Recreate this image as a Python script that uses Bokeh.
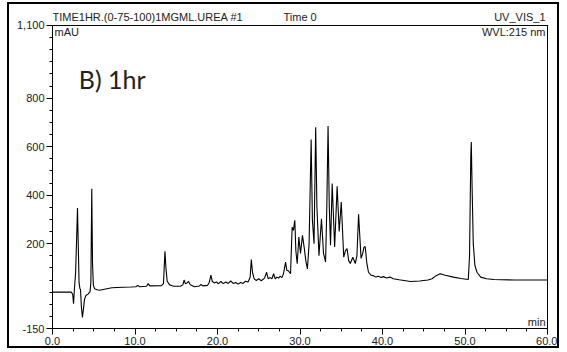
from bokeh.plotting import figure
from bokeh.models import Range1d, FixedTicker, NumeralTickFormatter, Label, Span
from bokeh.embed import file_html
from bokeh.resources import INLINE

# Retention time (min) and absorbance (mAU)
time_min = [0.0, 2.3, 2.45, 2.55, 2.65, 2.8, 2.95, 3.03, 3.12, 3.22, 3.32, 3.4, 3.5, 3.63, 3.75, 3.88,
            4.05, 4.3, 4.55, 4.65, 4.76, 4.85, 4.95, 5.1, 5.4, 5.7, 6.3, 7.2, 8.5, 9.5, 10.1, 10.35,
            10.55, 11.4, 11.6, 11.8, 13.2, 13.45, 13.63, 13.75, 13.9, 14.2, 14.7, 15.5, 15.8, 15.95,
            16.1, 16.3, 16.5, 16.7, 17.2, 17.8, 18.0, 18.2, 18.8, 19.0, 19.2, 19.35, 19.6, 19.9, 20.1,
            20.4, 20.7, 21.0, 21.3, 21.6, 21.9, 22.2, 22.5, 22.8, 23.1, 23.4, 23.7, 23.95, 24.1, 24.25,
            24.45, 24.7, 25.0, 25.3, 25.7, 25.95, 26.15, 26.4, 26.6, 26.8, 27.0, 27.2, 27.4, 27.6, 27.8,
            28.0, 28.25, 28.4, 28.6, 28.85, 29.05, 29.2, 29.37, 29.5, 29.66, 29.86, 30.06, 30.3, 30.5,
            30.7, 30.9, 31.1, 31.35, 31.5, 31.7, 31.9, 32.05, 32.3, 32.6, 32.85, 33.1, 33.25, 33.4,
            33.55, 33.7, 33.9, 34.2, 34.5, 34.75, 35.0, 35.3, 35.5, 35.7, 35.9, 36.1, 36.4, 36.7, 36.9,
            37.1, 37.4, 37.6, 37.75, 37.9, 38.1, 38.3, 38.6, 38.9, 39.2, 39.5, 39.8, 40.1, 40.5, 40.9,
            41.3, 42.0, 43.4, 44.5, 45.5, 46.0, 46.5, 47.0, 47.6, 48.6, 49.5, 50.4, 50.55, 50.7, 50.76,
            50.85, 51.0, 51.2, 51.45, 51.9, 52.6, 53.5, 56.0, 60.0]
signal_mau = [0, 0, -10, -48, 10, 80, 250, 347, 200, 40, 15, 10, -60, -104, -70, -30,
              -14, -8, 2, 40, 427, 120, 30, 14, 10, 8, 12, 18, 20, 21, 22, 28,
              22, 24, 35, 26, 27, 35, 169, 100, 45, 30, 24, 24, 30, 50,
              35, 38, 44, 30, 22, 25, 32, 26, 28, 40, 70, 45, 38, 42, 34,
              44, 35, 42, 36, 46, 36, 40, 33, 40, 36, 45, 42, 60, 134, 80,
              55, 48, 55, 47, 58, 82, 55, 60, 55, 76, 55, 62, 58, 66, 60,
              76, 124, 90, 88, 76, 268, 255, 296, 170, 117, 227, 160, 234, 186,
              130, 96, 200, 630, 300, 200, 680, 350, 150, 303, 160, 124, 350, 685,
              350, 193, 448, 186, 437, 250, 372, 144, 170, 180, 130, 118, 144, 118, 150,
              321, 139, 160, 185, 188, 120, 82, 70, 68, 62, 66, 60, 64, 58, 62,
              55, 51, 44, 46, 50, 55, 68, 76, 70, 62, 56, 52, 150, 560, 619,
              450, 200, 110, 82, 62, 55, 52, 50, 50]

x_major_ticks = [0, 10, 20, 30, 40, 50, 60]
x_minor_ticks = [i * 2.5 for i in range(25)]
y_major_ticks = [-150, 200, 400, 600, 800, 1100]
y_minor_ticks = [-150 + 50 * i for i in range(26)]
x_limits = (0, 60)
y_limits = (-150, 1100)

header_left = "TIME1HR.(0-75-100)1MGML.UREA #1"
header_mid = "Time 0"
header_right = "UV_VIS_1"
unit_left = "mAU"
unit_right = "WVL:215 nm"
panel_label = "B) 1hr"
x_unit = "min"

FONT = "Liberation Sans"
TXT = "#222222"
FS = "11px"

# the frame reaches above the 1,100 line so the header texts sit inside it
p = figure(width=552, height=346, output_backend="svg", toolbar_location=None,
           x_range=Range1d(x_limits[0], x_limits[1] + 0.12),
           y_range=Range1d(y_limits[0], y_limits[1] + 66),
           min_border_left=43, min_border_right=13, min_border_top=5, min_border_bottom=22)
p.title.visible = False
p.styles = {"border": "2px solid black", "margin-left": "7px", "margin-top": "2px"}
p.background_fill_color = "white"
p.border_fill_color = "white"
p.outline_line_color = None
p.xgrid.visible = False
p.ygrid.visible = False

p.xaxis.ticker = FixedTicker(ticks=x_major_ticks, minor_ticks=x_minor_ticks)
p.yaxis.ticker = FixedTicker(ticks=y_major_ticks, minor_ticks=y_minor_ticks)
p.xaxis.formatter = NumeralTickFormatter(format="0.0")
p.yaxis.formatter = NumeralTickFormatter(format="0,0")
p.xaxis.bounds = x_limits
p.yaxis.bounds = y_limits
for ax in (p.xaxis[0], p.yaxis[0]):
    ax.axis_line_color = "black"
    ax.major_tick_line_color = "black"
    ax.minor_tick_line_color = "black"
    ax.major_tick_in = 0
    ax.major_tick_out = 6
    ax.minor_tick_in = 0
    ax.minor_tick_out = 3
    ax.major_label_text_font = FONT
    ax.major_label_text_font_size = FS
    ax.major_label_text_color = TXT
    ax.major_label_standoff = 2

# top and right edges of the plotting box
p.add_layout(Span(location=y_limits[1], dimension="width", line_color="black", line_width=1))
p.segment(x0=[x_limits[1]], y0=[y_limits[0]], x1=[x_limits[1]], y1=[y_limits[1]],
          line_color="black", line_width=1)

p.line(time_min, signal_mau, line_color="black", line_width=1.1)

def add_label(x, y, text, align="left", baseline="bottom", xo=0, yo=0, size=FS, font=FONT):
    p.add_layout(Label(x=x, y=y, text=text, text_align=align, text_baseline=baseline,
                       x_offset=xo, y_offset=yo, text_font=font, text_font_size=size,
                       text_color=TXT))

add_label(0, y_limits[1], header_left, "left", "bottom", 0, 2)
add_label(28.0, y_limits[1], header_mid, "left", "bottom", 0, 2)
add_label(60, y_limits[1], header_right, "right", "bottom", -2, 2)
add_label(0, y_limits[1], unit_left, "left", "top", 2, -1)
add_label(60, y_limits[1], unit_right, "right", "top", -2, -1)
add_label(60, y_limits[0], x_unit, "right", "bottom", -2, 1)
add_label(3.18, 880, panel_label, "left", "alphabetic", 0, 0, "25px", "Lato")

open("out.html", "w").write(file_html(p, INLINE))
